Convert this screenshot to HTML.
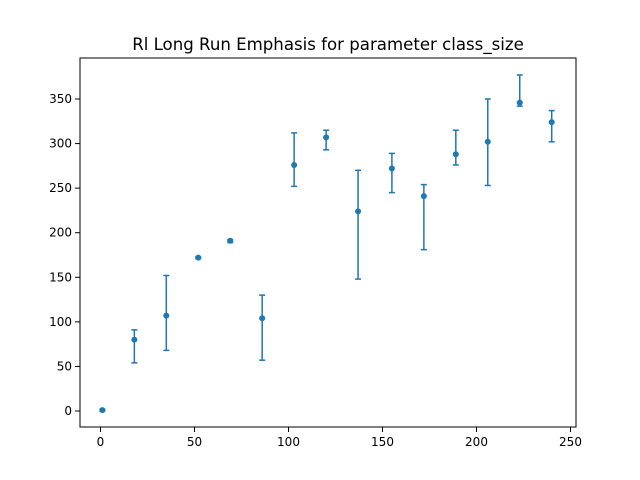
<!DOCTYPE html>
<html><head><meta charset="utf-8"><style>body{margin:0;background:#fff}svg{display:block;font-family:"DejaVu Sans","Liberation Sans",sans-serif}</style></head>
<body>
<svg id="c" width="640" height="480"></svg>
<script>
const xs=[1,18,35,52,69,86,103,120,137,155,172,189,206,223,240];
const ys=[1,80,107,172,191,104,276,307,224,272,241,288,302,346,324];
const lo=[0,54,68,171,189,57,252,293,148,245,181,276,253,342,302];
const hi=[2,91,152,173,192,130,312,315,270,289,254,315,350,377,337];
const xticks=[0,50,100,150,200,250];
const yticks=[0,50,100,150,200,250,300,350];
const L=80,R=576,T=58,B=427;
const X=v=>100.5+v*1.88, Y=v=>411-v*0.8914;
const s=document.getElementById('c');const ns='http://www.w3.org/2000/svg';
function el(t,a,p){const e=document.createElementNS(ns,t);for(const k in a)e.setAttribute(k,a[k]);(p||s).appendChild(e);return e;}
const t=el('text',{x:328,y:50,'text-anchor':'middle','font-size':16.6});t.textContent='Rl Long Run Emphasis for parameter class_size';

xticks.forEach(v=>{el('line',{x1:X(v),x2:X(v),y1:B,y2:B+5,stroke:'#000'});const e=el('text',{x:X(v),y:B+19,'text-anchor':'middle','font-size':12});e.textContent=v;
});
yticks.forEach(v=>{el('line',{x1:L-5,x2:L,y1:Y(v),y2:Y(v),stroke:'#000'});const e=el('text',{x:L-8,y:Y(v)+4,'text-anchor':'end','font-size':12});e.textContent=v;
});
xs.forEach((x,i)=>{const g=el('g',{stroke:'#1f77b4','stroke-width':1.5});

el('line',{x1:X(x),x2:X(x),y1:Y(lo[i]),y2:Y(hi[i])},g);
el('line',{x1:X(x)-3,x2:X(x)+3,y1:Y(lo[i]),y2:Y(lo[i])},g);
el('line',{x1:X(x)-3,x2:X(x)+3,y1:Y(hi[i]),y2:Y(hi[i])},g);
const c=el('circle',{cx:X(x),cy:Y(ys[i]),r:3,fill:'#1f77b4'});
});
const f=el('rect',{x:L,y:T,width:R-L,height:B-T,fill:'none',stroke:'#000','stroke-width':1});

</script>
</body></html>
